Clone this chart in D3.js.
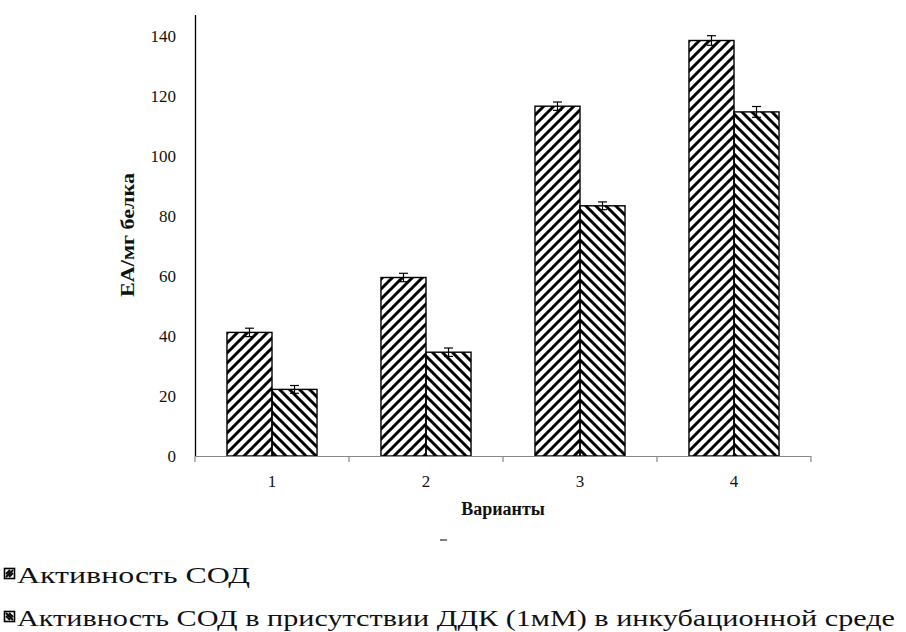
<!DOCTYPE html>
<html>
<head>
<meta charset="utf-8">
<script src="https://cdn.jsdelivr.net/npm/d3@7"></script>
<style>
  body { margin: 0; background: #fff; }
  text { font-family: "Liberation Serif", "Times New Roman", serif; }
</style>
</head>
<body>
<div id="chart"></div>
<script>
var categories = ["1", "2", "3", "4"];
var seriesNames = ["Активность СОД", "Активность СОД в присутствии ДДК (1мМ) в инкубационной  среде"];
var sodValues = [41.2, 59.5, 116.6, 138.5];
var sodErrors = [1.4, 1.4, 1.4, 1.6];
var ddkValues = [22.2, 34.6, 83.4, 114.7];
var ddkErrors = [1.3, 1.4, 1.3, 1.8];
var yTicks = [0, 20, 40, 60, 80, 100, 120, 140];

var width = 906, height = 632;

var svg = d3.select('#chart').append('svg')
  .attr('width', width)
  .attr('height', height)

var defs = svg.append('defs');
// hatch patterns: forward and back diagonals
defs.append('pattern')
  .attr('id', 'hatchFwd')
  .attr('patternUnits', 'userSpaceOnUse')
  .attr('width', 10).attr('height', 10)
  .append('path')
  .attr('d', 'M-2.5,2.5 l5,-5 M0,10 l10,-10 M7.5,12.5 l5,-5')
  .attr('stroke', '#000').attr('stroke-width', 3)

defs.append('pattern')
  .attr('id', 'hatchBack')
  .attr('patternUnits', 'userSpaceOnUse')
  .attr('width', 10).attr('height', 10)
  .append('path')
  .attr('d', 'M-2.5,7.5 l5,5 M0,0 l10,10 M7.5,-2.5 l5,5')
  .attr('stroke', '#000').attr('stroke-width', 3)

var fills = ['url(#hatchFwd)', 'url(#hatchBack)'];

var x = d3.scaleBand()
  .domain(categories)
  .range([195, 811])

var y = d3.scaleLinear()
  .domain([0, 140])
  .range([456, 36])

var inner = d3.scaleBand()
  .domain([0, 1])
  .range([0, x.bandwidth()])
  .paddingOuter(0.71)
  .paddingInner(0)

// y axis line
svg.append('line')
  .attr('x1', 195.5).attr('x2', 195.5)
  .attr('y1', y(147)).attr('y2', y(0))
  .attr('stroke', '#000').attr('stroke-width', 1.3)

svg.selectAll('.ytick')
  .data(yTicks).enter().append('text')
  .attr('class', 'ytick')
  .attr('x', 176)
  .attr('y', function(d){ return y(d) + 6 })
  .attr('text-anchor', 'end')
  .attr('font-size', '17px')
  .attr('fill', '#111')
  .text(function(d){ return d })

// bars
var series = [
  { vals: sodValues, errs: sodErrors },
  { vals: ddkValues, errs: ddkErrors }
];

series.forEach(function(s, si){
  svg.selectAll('.bar-' + si)
    .data(categories).enter().append('rect')
    .attr('class', 'bar-' + si)
    .attr('x', function(d){ return x(d) + inner(si) })
    .attr('y', function(d, i){ return y(s.vals[i]) })
    .attr('width', inner.bandwidth())
    .attr('height', function(d, i){ return y(0) - y(s.vals[i]) })
    .attr('fill', fills[si])
    .attr('stroke', '#000')
    .attr('stroke-width', 1.4)

  var eb = svg.selectAll('.err-' + si)
    .data(categories).enter().append('g')
    .attr('class', 'err-' + si)
    .attr('stroke', '#000')
    .attr('stroke-width', 1.2)

  eb.append('line')
    .attr('x1', function(d){ return x(d) + inner(si) + inner.bandwidth() / 2 })
    .attr('x2', function(d){ return x(d) + inner(si) + inner.bandwidth() / 2 })
    .attr('y1', function(d, i){ return y(s.vals[i] + s.errs[i]) })
    .attr('y2', function(d, i){ return y(s.vals[i] - s.errs[i]) })
  eb.selectAll('.cap')
    .data(function(d, i){ return [[d, s.vals[i] + s.errs[i]], [d, s.vals[i] - s.errs[i]]] })
    .enter().append('line')
    .attr('x1', function(d){ return x(d[0]) + inner(si) + inner.bandwidth() / 2 - 4.5 })
    .attr('x2', function(d){ return x(d[0]) + inner(si) + inner.bandwidth() / 2 + 4.5 })
    .attr('y1', function(d){ return y(d[1]) })
    .attr('y2', function(d){ return y(d[1]) })
})

// x axis
svg.append('line')
  .attr('x1', 195).attr('x2', 811)
  .attr('y1', y(0) + 0.5).attr('y2', y(0) + 0.5)
  .attr('stroke', '#888').attr('stroke-width', 1.2)

var bounds = categories.map(function(d){ return x(d) }).concat([811]);
svg.selectAll('.xtickmark')
  .data(bounds).enter().append('line')
  .attr('class', 'xtickmark')
  .attr('x1', function(d){ return d }).attr('x2', function(d){ return d })
  .attr('y1', y(0)).attr('y2', y(0) + 6)
  .attr('stroke', '#888').attr('stroke-width', 1.2)

svg.selectAll('.xtick')
  .data(categories).enter().append('text')
  .attr('class', 'xtick')
  .attr('x', function(d){ return x(d) + x.bandwidth() / 2 })
  .attr('y', 487)
  .attr('text-anchor', 'middle')
  .attr('font-size', '17px')
  .attr('fill', '#111')
  .text(function(d){ return d })

svg.append('text')
  .attr('x', 503).attr('y', 515)
  .attr('text-anchor', 'middle')
  .attr('font-size', '18px')
  .attr('font-weight', 'bold')
  .attr('fill', '#111')
  .text('Варианты')

svg.append('text')
  .attr('transform', 'translate(134,235) rotate(-90)')
  .attr('text-anchor', 'middle')
  .attr('font-size', '18px')
  .attr('font-weight', 'bold')
  .attr('fill', '#111')
  .attr('textLength', 124)
  .attr('lengthAdjust', 'spacingAndGlyphs')
  .text('ЕА/мг белка')

// small stray mark
svg.append('line')
  .attr('x1', 440).attr('x2', 447)
  .attr('y1', 540).attr('y2', 540)
  .attr('stroke', '#555').attr('stroke-width', 1.5)

// legend, positioned by text baseline
var legend = svg.selectAll('.legend')
  .data(seriesNames).enter().append('g')
  .attr('class', 'legend')
  .attr('transform', function(d, i){ return 'translate(4,' + (583 + i * 43) + ')' })

legend.append('rect')
  .attr('x', 0.5).attr('y', -14.5)
  .attr('width', 10).attr('height', 10)
  .attr('fill', '#fff')
  .attr('stroke', '#000').attr('stroke-width', 1.6)

legend.append('path')
  .attr('d', function(d, i){ return i === 0 ? 'M2,-6 L9,-13 M2,-9 L6,-13 M5,-6 L9,-10' : 'M2,-13 L9,-6 M2,-10 L6,-6 M5,-13 L9,-9' })
  .attr('stroke', '#000').attr('stroke-width', 1.8)

legend.append('text')
  .attr('x', 13)
  .attr('y', 0)
  .attr('font-size', '24px')
  .attr('fill', '#111')
  .attr('textLength', function(d, i){ return i === 0 ? 233 : 878 })
  .attr('lengthAdjust', 'spacingAndGlyphs')
  .text(function(d){ return d })
</script>
</body>
</html>
